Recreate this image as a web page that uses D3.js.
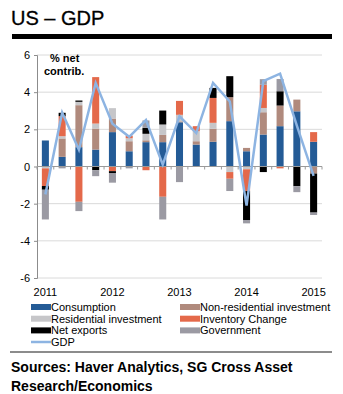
<!DOCTYPE html>
<html>
<head>
    <meta charset="utf-8">
    <script src="https://d3js.org/d3.v7.min.js"></script>
    <style>
        body { margin: 0; background: white; }
        text { font-family: "Liberation Sans", Arial, sans-serif; }
    </style>
</head>
<body>
    <svg id="svg" width="343" height="394"></svg>
    <script>
        // quarters 2011Q1 .. 2015Q1
        var quarters = ["2011Q1", "2011Q2", "2011Q3", "2011Q4", "2012Q1", "2012Q2", "2012Q3", "2012Q4",
            "2013Q1", "2013Q2", "2013Q3", "2013Q4", "2014Q1", "2014Q2", "2014Q3", "2014Q4", "2015Q1"];
        var yearLabels = ["2011", "2012", "2013", "2014", "2015"];
        var yTicks = [-6, -4, -2, 0, 2, 4, 6];

        var consumption = [1.4, 0.52, 1.04, 0.91, 1.85, 0.82, 1.31, 1.31, 2.38, 1.18, 1.33, 2.44, 0.82, 1.72, 2.17, 2.97, 1.33];
        var nonResidential = [0, 0.99, 2.26, 1.13, 0.73, 0.54, 0.1, 0.39, 0.05, 0.18, 0.7, 1.29, 0.18, 1.2, 1.11, 0.63, -0.38];
        var residential = [-0.1, 0.12, 0.18, 0.27, 0.56, 0.16, 0.35, 0.56, 0.35, 0.54, 0.32, -0.3, -0.15, 0.23, 0, 0, 0];
        var inventory = [-0.95, 1.08, -1.9, 2.5, -0.25, 0.14, -0.2, -1.63, 0.75, 0.27, 1.34, -0.36, -1.17, 1.25, -0.1, 0, 0.52];
        var netExports = [-0.2, 0.18, 0.07, -0.2, -0.1, 0, 0.32, 0.75, 0, 0, 0.54, 1.13, -1.56, -0.3, 0.77, -1.06, -2.1];
        var government = [-1.6, -0.1, -0.5, -0.32, -0.52, -0.1, 0.4, -1.22, -0.84, 0, 0, -0.66, -0.18, 0.3, 0.66, -0.32, -0.13];
        var gdp = [-1.5, 2.9, 0.9, 4.5, 2.3, 1.6, 2.5, 0.1, 2.7, 1.8, 4.5, 3.5, -2.1, 4.6, 5.0, 2.2, -0.5];

        var seriesNames = ["Consumption", "Non-residential investment", "Residential investment", "Inventory Change", "Net exports", "Government"];
        var seriesData = [consumption, nonResidential, residential, inventory, netExports, government];
        var colors = ["#245b96", "#b08a7d", "#c6c6c9", "#e4694a", "#000000", "#9b9aa3"];
        var gdpColor = "#8db4e2";

        var svg = d3.select("#svg");

        // title
        svg.append("text").attr("x", 11).attr("y", 25).attr("font-size", 20).attr("fill", "#000")
            .attr("stroke", "#000").attr("stroke-width", 0.3).text("US \u2013 GDP");
        svg.append("rect").attr("x", 12).attr("y", 34).attr("width", 320).attr("height", 5).attr("fill", "#000");

        var x = d3.scaleBand().domain(quarters).range([37, 322]).paddingInner(0.58).paddingOuter(0.29);
        var y = d3.scaleLinear().domain([-6, 6]).range([278, 55]);

        // gridlines
        svg.append("g").selectAll("line").data(yTicks).join("line")
            .attr("x1", 37).attr("x2", 322)
            .attr("y1", d => y(d)).attr("y2", d => y(d))
            .attr("stroke", "#dadada").attr("stroke-width", 1);

        // y axis
        var yAxis = svg.append("g").attr("transform", "translate(37,0)")
            .call(d3.axisLeft(y).tickValues(yTicks).tickFormat(d => String(d)).tickSize(3).tickPadding(4));
        yAxis.select(".domain").attr("stroke", "#8c8c8c");
        yAxis.selectAll(".tick line").attr("stroke", "#8c8c8c");
        yAxis.selectAll("text").attr("font-size", 11).attr("fill", "#000")
            .style("font-family", "'Liberation Sans', Arial, sans-serif");

        svg.append("text").attr("x", 50).attr("y", 62).attr("font-size", 11).attr("font-weight", "bold").text("% net");
        svg.append("text").attr("x", 44).attr("y", 75).attr("font-size", 11).attr("font-weight", "bold").text("contrib.");

        // stacked bars
        var rows = quarters.map(function (q, i) {
            var r = { q: q };
            seriesNames.forEach(function (s, j) { r[s] = seriesData[j][i]; });
            return r;
        });
        var stack = d3.stack().keys(seriesNames).offset(d3.stackOffsetDiverging);
        var layers = stack(rows);

        svg.append("g").selectAll("g").data(layers).join("g")
            .attr("fill", (d, i) => colors[i])
            .selectAll("rect").data(d => d).join("rect")
            .attr("x", d => x(d.data.q))
            .attr("width", x.bandwidth())
            .attr("y", d => y(Math.max(d[0], d[1])))
            .attr("height", d => Math.abs(y(d[0]) - y(d[1])));

        // zero axis with quarter ticks
        var bounds = quarters.map(q => x(q) - x.step() * x.paddingInner() / 2);
        bounds.push(322);
        svg.append("line").attr("x1", 37).attr("x2", 322).attr("y1", y(0)).attr("y2", y(0)).attr("stroke", "#9a9a9a");
        svg.append("g").selectAll("line").data(bounds).join("line")
            .attr("x1", d => d).attr("x2", d => d)
            .attr("y1", y(0)).attr("y2", y(0) + 3)
            .attr("stroke", "#9a9a9a");

        // year labels
        svg.append("g").selectAll("text").data(yearLabels).join("text")
            .attr("x", (d, i) => x(quarters[i * 4]) + x.bandwidth() / 2)
            .attr("y", 296)
            .attr("text-anchor", "middle").attr("font-size", 11)
            .text(d => d);

        // GDP line
        var line = d3.line().x((d, i) => x(quarters[i]) + x.bandwidth() / 2).y(d => y(d));
        svg.append("path").datum(gdp).attr("d", line)
            .attr("fill", "none").attr("stroke", gdpColor).attr("stroke-width", 2.5);

        // legend
        var legendItems = [
            { name: "Consumption", c: colors[0], col: 0, row: 0 },
            { name: "Non-residential investment", c: colors[1], col: 1, row: 0 },
            { name: "Residential investment", c: colors[2], col: 0, row: 1 },
            { name: "Inventory Change", c: colors[3], col: 1, row: 1 },
            { name: "Net exports", c: colors[4], col: 0, row: 2 },
            { name: "Government", c: colors[5], col: 1, row: 2 }
        ];
        var lg = svg.append("g");
        legendItems.forEach(function (d) {
            var lx = d.col === 0 ? 31 : 180, ly = 307 + d.row * 11.7;
            lg.append("rect").attr("x", lx).attr("y", ly - 3).attr("width", 20).attr("height", 6).attr("fill", d.c);
            lg.append("text").attr("x", lx + 20).attr("y", ly + 4).attr("font-size", 11).text(d.name);
        });
        lg.append("line").attr("x1", 31).attr("x2", 51).attr("y1", 342).attr("y2", 342)
            .attr("stroke", gdpColor).attr("stroke-width", 2.5);
        lg.append("text").attr("x", 51).attr("y", 346).attr("font-size", 11).text("GDP");

        // sources
        svg.append("rect").attr("x", 10).attr("y", 351).attr("width", 322).attr("height", 2).attr("fill", "#8c8c8c");
        svg.append("text").attr("x", 11).attr("y", 372).attr("font-size", 14).attr("font-weight", "bold").text("Sources: Haver Analytics, SG Cross Asset");
        svg.append("text").attr("x", 11).attr("y", 391).attr("font-size", 14).attr("font-weight", "bold").text("Research/Economics");
    </script>
</body>
</html>
